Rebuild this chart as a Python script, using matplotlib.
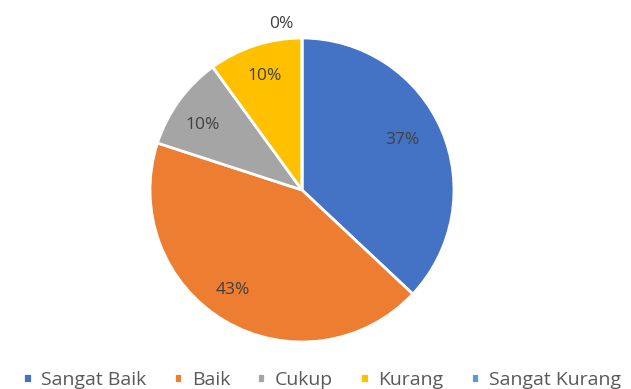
import numpy as np
import matplotlib
matplotlib.use("Agg")
import matplotlib.pyplot as plt

kategori = ["Sangat Baik", "Baik", "Cukup", "Kurang", "Sangat Kurang"]
persen = [37, 43, 10, 10, 0]
warna = ["#4472C4", "#ED7D31", "#A5A5A5", "#FFC000", "#5B9BD5"]

# position of each percentage label (fraction of radius, angle shift in degrees)
jarak_label = [0.74, 0.80, 0.78, 0.79, 1.10]
geser_sudut = [3, -4, 3, 0, 7]

plt.rcParams["font.family"] = ["Open Sans", "DejaVu Sans"]

fig = plt.figure(figsize=(6.31, 3.89), dpi=100)
ax = fig.add_axes([150 / 631, 47 / 389, 304 / 631, 304 / 389])

wedges, _ = ax.pie(persen, colors=warna, startangle=90, counterclock=False,
                   wedgeprops=dict(edgecolor="white", linewidth=2))

for w, p, r, d in zip(wedges, persen, jarak_label, geser_sudut):
    sudut = np.deg2rad((w.theta1 + w.theta2) / 2 + d)
    ax.text(r * np.cos(sudut), r * np.sin(sudut), f"{p}%", ha="center", va="center",
            fontsize=12.5, color="#404040")

ax.set_xlim(-1, 1)
ax.set_ylim(-1, 1)
ax.set_aspect("equal")
ax.axis("off")

fig.legend(wedges, kategori, loc="center", bbox_to_anchor=(322 / 631, 9 / 389), ncol=5,
           frameon=False, fontsize=14, handlelength=0.42, handleheight=0.42,
           handletextpad=0.5, columnspacing=1.4, labelcolor="#595959",
           borderpad=0, borderaxespad=0)

fig.savefig("out.png", dpi=100)
